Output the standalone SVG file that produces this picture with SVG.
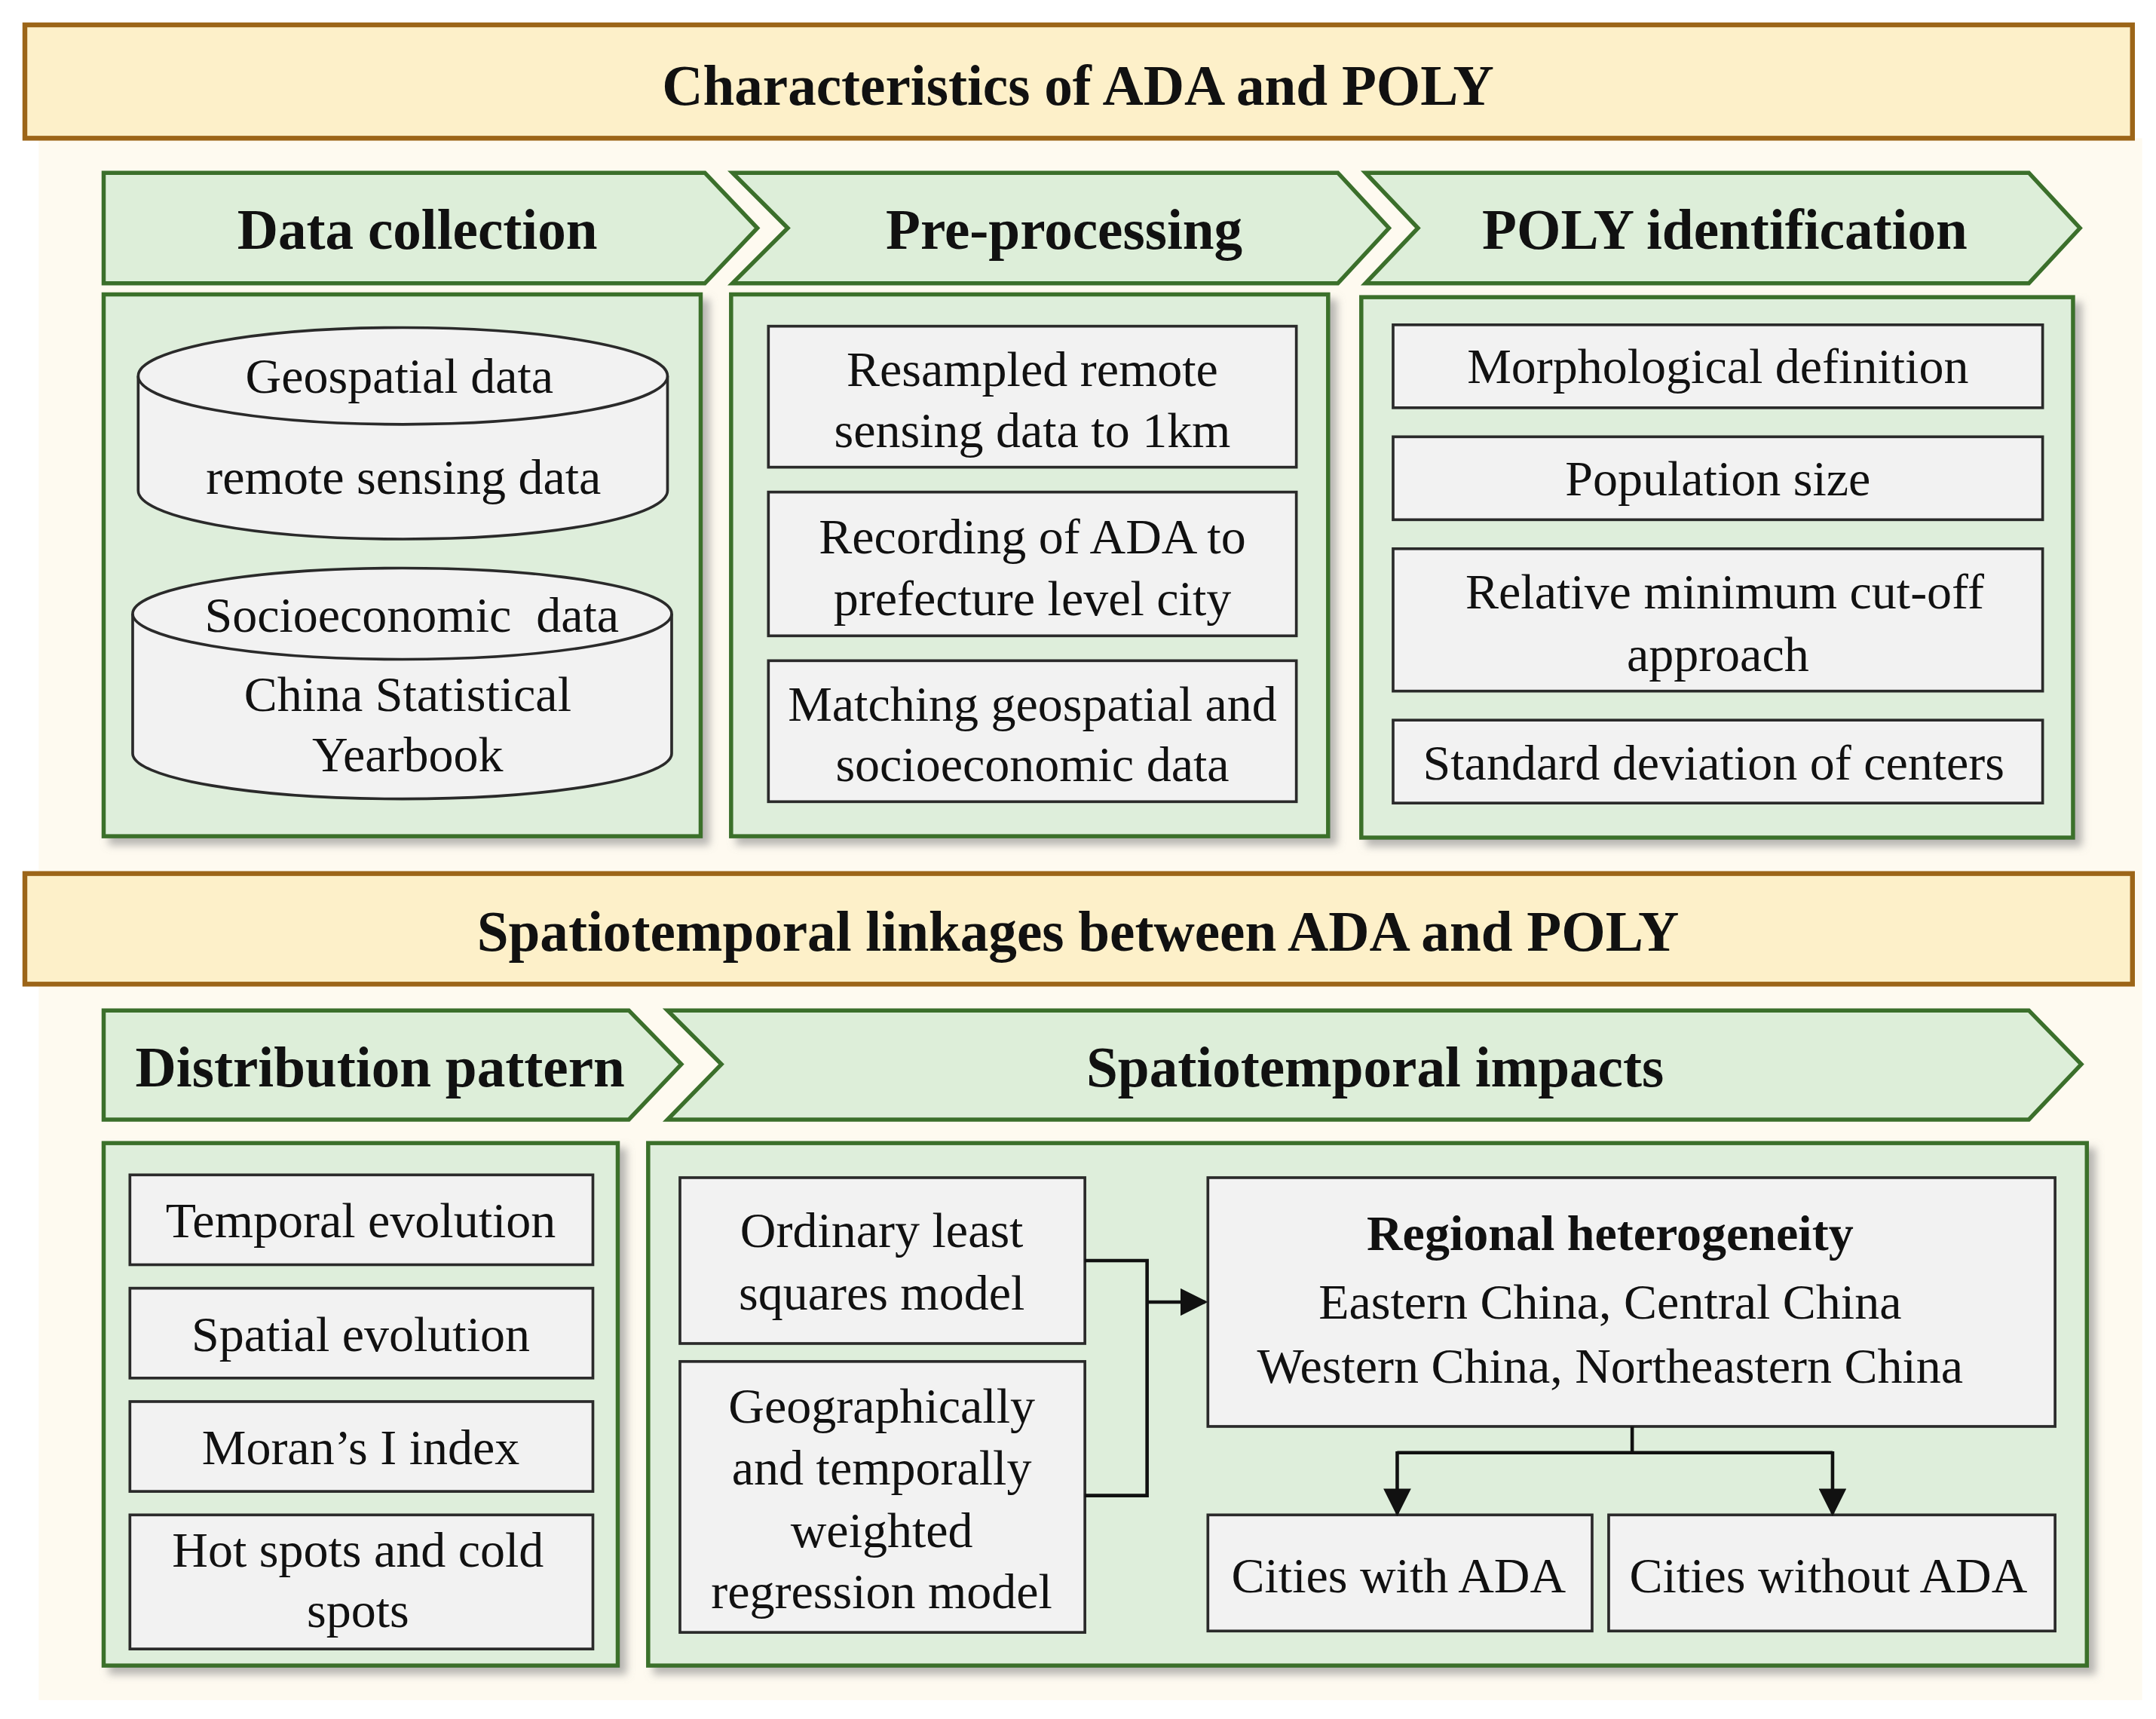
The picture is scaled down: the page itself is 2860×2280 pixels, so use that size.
<svg xmlns="http://www.w3.org/2000/svg" width="2860" height="2280" viewBox="0 0 2860 2280">
<style>
.ban{fill:#fdf0c9;stroke:#9c6518;stroke-width:3.5}
.chev{fill:#ddeed9;stroke:#3b6f2b;stroke-width:3}
.pan{fill:#deeedb;stroke:#3b6f2b;stroke-width:3;filter:url(#sh)}
.bx{fill:#f2f2f2;stroke:#2a2a2a;stroke-width:2}
.cyl{fill:#f2f2f2;stroke:#2a2a2a;stroke-width:2}
text{font-family:"Liberation Serif","Times New Roman",serif;fill:#111;text-anchor:middle;dominant-baseline:central}
.h{font-weight:bold;font-size:41px}
.t{font-size:36px}
.ln{fill:none;stroke:#111;stroke-width:2.5}
</style>
<defs>
<filter id="sh" x="-5%" y="-5%" width="115%" height="115%"><feDropShadow dx="5" dy="5" stdDeviation="3" flood-color="#888" flood-opacity="0.6"/></filter>
<marker id="ar" viewBox="0 0 10 10" refX="9" refY="5" markerWidth="8" markerHeight="8" orient="auto"><path d="M0,0L10,5L0,10z" fill="#111"/></marker>
</defs>
<rect width="2860" height="2280" fill="#fff"/>
<g transform="scale(1.8333)">
<rect x="28" y="100" width="1522" height="1130" fill="#fefaf0"/>
<g id="banner1"><rect class="ban" x="18" y="18" width="1525" height="82"/><text class="h" x="780" y="62">Characteristics of ADA and POLY</text></g>
<g id="chev-data"><polygon class="chev" points="75,125 510,125 548,165 510,205 75,205"/><text class="h" x="302" y="166">Data collection</text></g>
<g id="chev-pre"><polygon class="chev" points="530,125 968,125 1005,165 968,205 530,205 570,165"/><text class="h" x="770" y="166">Pre-processing</text></g>
<g id="chev-poly"><polygon class="chev" points="988,125 1468,125 1505,165 1468,205 988,205 1026,165"/><text class="h" x="1248" y="166">POLY identification</text></g>
<g id="panel-data"><rect class="pan" x="75" y="213" width="432" height="392"/>
<path class="cyl" d="M100,272 L100,355 A191.5,35 0 0 0 483,355 L483,272"/>
<ellipse class="cyl" cx="291.5" cy="272" rx="191.5" ry="35"/>
<text class="t" x="289" y="272">Geospatial data</text><text class="t" x="292" y="345">remote sensing data</text>
<path class="cyl" d="M96,444 L96,545 A195,33 0 0 0 486,545 L486,444"/>
<ellipse class="cyl" cx="291" cy="444" rx="195" ry="33"/>
<text class="t" x="298" y="445" xml:space="preserve">Socioeconomic  data</text><text class="t" x="295" y="502">China Statistical</text><text class="t" x="295" y="546">Yearbook</text></g>
<g id="panel-pre"><rect class="pan" x="529" y="213" width="432" height="392"/>
<rect class="bx" x="556" y="236" width="382" height="102"/><text class="t" x="747" y="267">Resampled remote</text><text class="t" x="747" y="311">sensing data to 1km</text>
<rect class="bx" x="556" y="356" width="382" height="104"/><text class="t" x="747" y="388">Recording of ADA to</text><text class="t" x="747" y="433">prefecture level city</text>
<rect class="bx" x="556" y="478" width="382" height="102"/><text class="t" x="747" y="509">Matching geospatial and</text><text class="t" x="747" y="553">socioeconomic data</text></g>
<g id="panel-poly"><rect class="pan" x="985" y="215" width="515" height="391"/>
<rect class="bx" x="1008" y="235" width="470" height="60"/><text class="t" x="1243" y="265">Morphological definition</text>
<rect class="bx" x="1008" y="316" width="470" height="60"/><text class="t" x="1243" y="346">Population size</text>
<rect class="bx" x="1008" y="397" width="470" height="103"/><text class="t" x="1248" y="428">Relative minimum cut-off</text><text class="t" x="1243" y="473">approach</text>
<rect class="bx" x="1008" y="521" width="470" height="60"/><text class="t" x="1240" y="552">Standard deviation of centers</text></g>
<g id="banner2"><rect class="ban" x="18" y="632" width="1525" height="80"/><text class="h" x="780" y="674">Spatiotemporal linkages between ADA and POLY</text></g>
<g id="chev-dist"><polygon class="chev" points="75,731 455,731 493,770 455,810 75,810"/><text class="h" x="275" y="772">Distribution pattern</text></g>
<g id="chev-imp"><polygon class="chev" points="483,731 1468,731 1506,770 1468,810 483,810 522,770"/><text class="h" x="995" y="772">Spatiotemporal impacts</text></g>
<g id="panel-dist"><rect class="pan" x="75" y="827" width="372" height="378"/>
<rect class="bx" x="94" y="850" width="335" height="65"/><text class="t" x="261" y="883">Temporal evolution</text>
<rect class="bx" x="94" y="932" width="335" height="65"/><text class="t" x="261" y="965">Spatial evolution</text>
<rect class="bx" x="94" y="1014" width="335" height="65"/><text class="t" x="261" y="1047">Moran’s I index</text>
<rect class="bx" x="94" y="1096" width="335" height="97"/><text class="t" x="259" y="1121">Hot spots and cold</text><text class="t" x="259" y="1165">spots</text></g>
<g id="panel-imp"><rect class="pan" x="469" y="827" width="1041" height="378"/>
<rect class="bx" x="492" y="852" width="293" height="120"/><text class="t" x="638" y="890">Ordinary least</text><text class="t" x="638" y="935">squares model</text>
<rect class="bx" x="492" y="985" width="293" height="196"/><text class="t" x="638" y="1017">Geographically</text><text class="t" x="638" y="1062">and temporally</text><text class="t" x="638" y="1107">weighted</text><text class="t" x="638" y="1151">regression model</text>
<rect class="bx" x="874" y="852" width="613" height="180"/><text class="t" x="1165" y="892" font-weight="bold">Regional heterogeneity</text><text class="t" x="1165" y="942">Eastern China, Central China</text><text class="t" x="1165" y="988">Western China, Northeastern China</text>
<rect class="bx" x="874" y="1096" width="278" height="84"/><text class="t" x="1012" y="1140">Cities with ADA</text>
<rect class="bx" x="1164" y="1096" width="323" height="84"/><text class="t" x="1323" y="1140">Cities without ADA</text></g>
<g id="connectors">
<path class="ln" d="M785,912 H830 V1082 H785"/>
<path class="ln" d="M830,942 H872" marker-end="url(#ar)"/>
<path class="ln" d="M1181,1032 V1051 M1011,1051 H1326"/>
<path class="ln" d="M1011,1050 V1095" marker-end="url(#ar)"/>
<path class="ln" d="M1326,1050 V1095" marker-end="url(#ar)"/>
</g>
</g>
</svg>
